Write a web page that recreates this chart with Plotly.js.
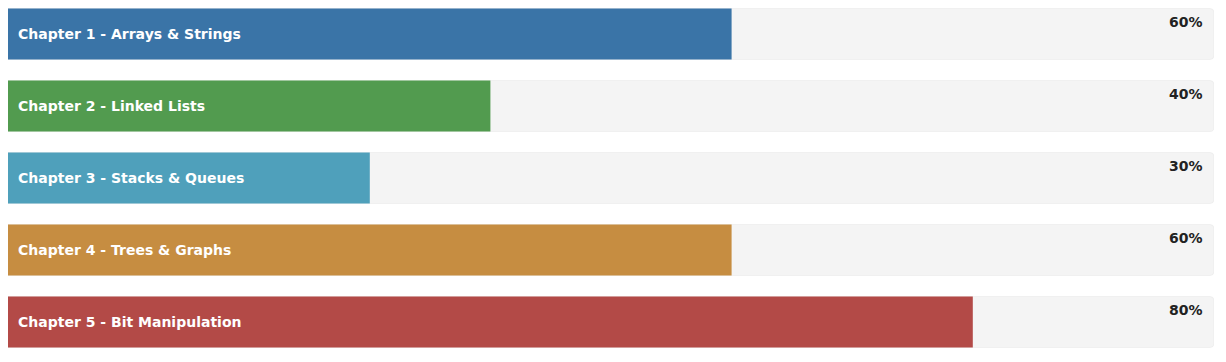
<!DOCTYPE html>
<html>
<head>
<meta charset="utf-8">
<script src="https://cdn.plot.ly/plotly-3.0.1.min.js"></script>
<style>
html,body{margin:0;padding:0;background:#fff;}
#chart{width:1226px;height:362px;}
</style>
</head>
<body>
<div id="chart"></div>
<script>
const chapters = [
  "Chapter 1 - Arrays & Strings",
  "Chapter 2 - Linked Lists",
  "Chapter 3 - Stacks & Queues",
  "Chapter 4 - Trees & Graphs",
  "Chapter 5 - Bit Manipulation"
];
const percents = [60, 40, 30, 60, 80];
const trackMax = [100, 100, 100, 100, 100];
const palette = ["#3a74a7", "#529b4f", "#4fa0bb", "#c68d41", "#b34a47"];

const track = {
  type: "bar", orientation: "h",
  y: chapters, x: trackMax,
  width: 0.708,
  marker: {color: "#f4f4f4", cornerradius: 4, line: {color: "#e6e6e6", width: 0.5}},
  hoverinfo: "skip", showlegend: false
};
const fill = {
  type: "bar", orientation: "h",
  y: chapters, x: percents,
  width: 0.708,
  marker: {color: palette, cornerradius: 3, line: {width: 0}},
  hoverinfo: "skip", showlegend: false
};

const annotations = [];
chapters.forEach((c, i) => {
  annotations.push({
    x: 0, y: c, xref: "x", yref: "y", xanchor: "left", yanchor: "middle",
    xshift: 8, showarrow: false, text: c,
    font: {family: "DejaVu Sans, Verdana, sans-serif", size: 14, color: "#ffffff", weight: 700}
  });
  annotations.push({
    x: 100, y: c, xref: "x", yref: "y", xanchor: "right", yanchor: "middle",
    xshift: -9, yshift: 12, showarrow: false, text: percents[i] + "%",
    font: {family: "DejaVu Sans, Verdana, sans-serif", size: 14, color: "#222222", weight: 700}
  });
});

const layout = {
  width: 1226, height: 362,
  margin: {l: 8, r: 12, t: 0, b: 0, pad: 0},
  paper_bgcolor: "#ffffff", plot_bgcolor: "#ffffff",
  barmode: "overlay",
  xaxis: {range: [0, 100], showgrid: false, zeroline: false, showticklabels: false, showline: false, fixedrange: true},
  yaxis: {type: "category", categoryarray: chapters, range: [4.5556, -0.4722], autorange: false,
          showgrid: false, zeroline: false, showticklabels: false, showline: false, fixedrange: true},
  annotations: annotations,
  showlegend: false
};

Plotly.newPlot("chart", [track, fill], layout, {displayModeBar: false, staticPlot: true});
</script>
</body>
</html>
